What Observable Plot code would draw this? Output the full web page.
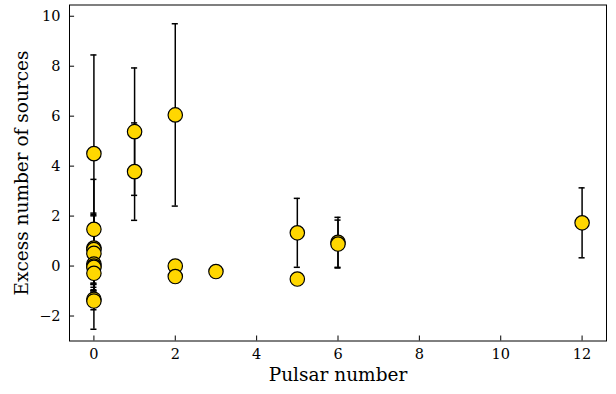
<!DOCTYPE html>
<html>
<head>
<meta charset="utf-8">
<script src="https://cdn.jsdelivr.net/npm/d3@7"></script>
<script src="https://cdn.jsdelivr.net/npm/@observablehq/plot@0.6"></script>
<style>
  html, body { margin: 0; padding: 0; background: #fff; }
  #chart svg { display: block; }
</style>
</head>
<body>
<div id="chart"></div>
<script>
// Pulsar number (x), excess number of sources (y), symmetric 1-sigma error
const pulsarNumber = [0, 0, 0, 0, 0, 0, 0, 0, 0, 0, 0, 1, 1, 2, 2, 2, 3, 5, 5, 6, 6, 12];
const excessSources = [4.5, 1.47, 0.72, 0.66, 0.51, 0.08, 0.0, -0.05, -0.29, -1.33, -1.4,
  5.38, 3.78, 6.05, 0.0, -0.42, -0.22, 1.33, -0.52, 0.95, 0.88, 1.73];
const errors = [3.95, 2.0, 1.4, 1.4, 1.5, 0.8, 0.85, 0.9, 0.7, 1.2, 0.35,
  2.55, 1.95, 3.65, 0, 0, 0, 1.38, 0, 1.0, 0.96, 1.4];
const xTicks = [0, 2, 4, 6, 8, 10, 12];
const yTicks = [-2, 0, 2, 4, 6, 8, 10];
const xLabel = "Pulsar number";
const yLabel = "Excess number of sources";

const xDomain = [-0.6, 12.6];
const yDomain = [-3, 10.45];

const data = pulsarNumber.map((x, i) => ({x, y: excessSources[i], e: errors[i]}));
const withErr = data.filter(d => d.e > 0);
const capHalf = 0.075;
const xTickLen = 0.2;   // inward tick length in y units (~5px)
const yTickLen = 0.125; // inward tick length in x units (~5px)

const font = "'DejaVu Serif', 'Liberation Serif', serif";

const chart = Plot.plot({
  width: 616,
  height: 394,
  marginLeft: 69,
  marginRight: 10,
  marginTop: 4.5,
  marginBottom: 53.5,
  style: {fontFamily: font, fontSize: "15px", color: "black", background: "white"},
  x: {domain: xDomain},
  y: {domain: yDomain},
  marks: [
    Plot.axisX({ticks: xTicks, tickSize: 0, tickPadding: 8, fontSize: 14.5, label: null, tickFormat: d3.format("d")}),
    Plot.axisY({ticks: yTicks, tickSize: 0, tickPadding: 9, fontSize: 14.5, label: null, tickFormat: d3.format("d")}),
    Plot.ruleX(xTicks, {x: d => d, y1: yDomain[0], y2: yDomain[0] + xTickLen, stroke: "black", strokeWidth: 1}),
    Plot.ruleY(yTicks, {y: d => d, x1: xDomain[0], x2: xDomain[0] + yTickLen, stroke: "black", strokeWidth: 1}),
    Plot.frame({stroke: "black", strokeWidth: 1}),
    Plot.ruleX(withErr, {x: "x", y1: d => d.y - d.e, y2: d => d.y + d.e, stroke: "black", strokeWidth: 1.5}),
    Plot.ruleY(withErr, {y: d => d.y + d.e, x1: d => d.x - capHalf, x2: d => d.x + capHalf, stroke: "black", strokeWidth: 1.5}),
    Plot.ruleY(withErr, {y: d => d.y - d.e, x1: d => d.x - capHalf, x2: d => d.x + capHalf, stroke: "black", strokeWidth: 1.5}),
    Plot.dot(data, {x: "x", y: "y", r: 7.2, fill: "#FFD700", stroke: "black", strokeWidth: 1.2}),
    Plot.text([xLabel], {text: d => d, frameAnchor: "bottom", dy: 40, fontSize: 18.5, fill: "black"}),
    Plot.text([yLabel], {text: d => d, frameAnchor: "left", textAnchor: "middle", rotate: -90, dx: -47, fontSize: 18.5, fill: "black"})
  ]
});
document.getElementById("chart").appendChild(chart);
</script>
</body>
</html>
